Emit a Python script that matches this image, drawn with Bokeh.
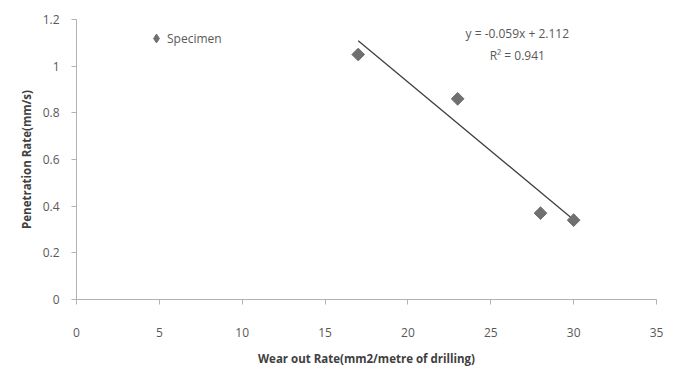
from bokeh.plotting import figure
from bokeh.models import Range1d, Label, Legend, LegendItem, FixedTicker
from bokeh.embed import file_html
from bokeh.resources import INLINE

wear_rate = [17, 23, 28, 30]
penetration = [1.05, 0.86, 0.37, 0.34]
x_ticks = [0, 5, 10, 15, 20, 25, 30, 35]
y_ticks = [0, 0.2, 0.4, 0.6, 0.8, 1.0, 1.2]
series_name = "Specimen"
trend_slope = -0.059
trend_intercept = 2.112
trend_r2 = 0.941

trend_x = [min(wear_rate), max(wear_rate)]
trend_y = [trend_slope * v + trend_intercept for v in trend_x]

FONT = "Open Sans"
p = figure(width=667, height=368, output_backend="svg", toolbar_location=None,
           x_range=Range1d(0, 35), y_range=Range1d(0, 1.2),
           min_border_left=76, min_border_right=11, min_border_top=19, min_border_bottom=67)
p.outline_line_color = None
p.xgrid.visible = False
p.ygrid.visible = False

for ax in (p.xaxis[0], p.yaxis[0]):
    ax.axis_line_color = "#b3b3b3"
    ax.major_tick_line_color = "#b3b3b3"
    ax.minor_tick_line_color = None
    ax.major_tick_in = 0
    ax.major_tick_out = 5
    ax.major_label_text_font = FONT
    ax.major_label_text_font_size = "12px"
    ax.major_label_text_color = "#595959"
    ax.axis_label_text_font = FONT
    ax.axis_label_text_font_size = "11.5px"
    ax.axis_label_text_font_style = "bold"
    ax.axis_label_text_color = "#404040"

p.xaxis.ticker = FixedTicker(ticks=x_ticks)
p.yaxis.ticker = FixedTicker(ticks=y_ticks)
p.yaxis.major_label_overrides = {0: "0", 0.2: "0.2", 0.4: "0.4", 0.6: "0.6", 0.8: "0.8", 1.0: "1", 1.2: "1.2"}
p.xaxis.major_label_standoff = 23
p.xaxis.axis_label = "Wear out Rate(mm2/metre of drilling)"
p.xaxis.axis_label_standoff = 11
p.yaxis.axis_label = "Penetration Rate(mm/s)"
p.yaxis.major_label_standoff = 12
p.yaxis.axis_label_standoff = 6

p.line(trend_x, trend_y, line_color="#404040", line_width=1.3)
# legend swatch (a diamond hidden beneath each rotated-square marker)
leg_r = p.scatter(wear_rate, penetration, marker="diamond", size=11,
                  fill_color="#707070", line_color="#707070")
p.scatter(wear_rate, penetration, marker="square", size=9, angle=0.785398,
          fill_color="#707070", line_color="#707070")

legend = Legend(items=[LegendItem(label=series_name, renderers=[leg_r])],
                location=(69, 250), border_line_color=None, background_fill_alpha=0,
                label_text_font=FONT, label_text_font_size="12px", label_text_color="#595959",
                glyph_width=22, glyph_height=22, label_standoff=0, padding=2, margin=0)
p.add_layout(legend, "center")

eq = "y = %.3fx + %.3f" % (trend_slope, trend_intercept)
p.add_layout(Label(x=26.6, y=1.14, text=eq, text_align="center", text_baseline="middle",
                   text_font=FONT, text_font_size="12px", text_color="#595959"))
p.add_layout(Label(x=26.6, y=1.047, text="R\u00b2 = %.3f" % trend_r2, text_align="center",
                   text_baseline="middle",
                   text_font=FONT, text_font_size="12px", text_color="#595959"))

open("out.html", "w").write(file_html(p, INLINE))
